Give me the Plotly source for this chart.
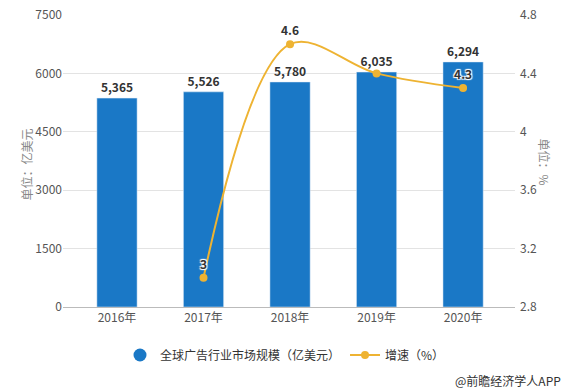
import plotly.graph_objects as go

years = ["2016年", "2017年", "2018年", "2019年", "2020年"]
market = [5365, 5526, 5780, 6035, 6294]
market_labels = ["5,365", "5,526", "5,780", "6,035", "6,294"]
growth_years = ["2017年", "2018年", "2019年", "2020年"]
growth = [3.0, 4.6, 4.4, 4.3]
growth_labels = ["3", "4.6", "", "4.3"]

BAR = "#1a78c6"
LINE = "#eeb332"
FONT = "Noto Sans CJK SC"

W, H = 569, 391
ML, MR, MT, MB = 63, 54, 15, 84
PW, PH = W - ML - MR, H - MT - MB


def px(x):
    return (x - ML) / PW


def py(y):
    return 1 - (y - MT) / PH


halo = "1px 1px 1px white, -1px -1px 1px white, 1px -1px 1px white, -1px 1px 1px white"

fig = go.Figure()
fig.add_trace(go.Bar(
    x=years, y=market, width=0.465, marker_color=BAR,
    text=market_labels, textposition="outside", cliponaxis=False,
    textfont=dict(size=12, color="#333333", family=FONT, weight="bold"),
    showlegend=False, name="全球广告行业市场规模（亿美元）"))
fig.add_trace(go.Scatter(
    x=[None], y=[None], mode="markers", marker=dict(color=BAR, size=13, symbol="circle"),
    name="全球广告行业市场规模（亿美元）"))
fig.add_trace(go.Scatter(
    x=growth_years, y=growth, yaxis="y2", mode="lines+markers+text",
    line=dict(color=LINE, width=2, shape="spline", smoothing=1.0),
    marker=dict(color=LINE, size=8),
    text=growth_labels, textposition="top center", cliponaxis=False,
    textfont=dict(size=12, color="#333333", family=FONT, weight="bold", shadow=halo),
    name="增速（%）"))

fig.update_layout(
    width=W, height=H,
    margin=dict(l=ML, r=MR, t=MT, b=MB, autoexpand=False),
    paper_bgcolor="white", plot_bgcolor="white",
    font=dict(family=FONT, size=12, color="#555555"),
    xaxis=dict(range=[-0.624, 4.60], showgrid=False, showline=True, linecolor="#bbbbbb",
               ticks="", automargin=False, tickfont=dict(size=12, color="#555555")),
    yaxis=dict(range=[0, 7500], tickvals=[0, 1500, 3000, 4500, 6000, 7500],
               showgrid=True, gridcolor="#e3e3e3", zeroline=False, showline=False,
               automargin=False, tickfont=dict(size=12, color="#555555")),
    yaxis2=dict(range=[2.8, 4.8], tickvals=[2.8, 3.2, 3.6, 4.0, 4.4, 4.8],
                ticktext=["2.8", "3.2", "3.6", "4", "4.4", "4.8"],
                overlaying="y", side="right", showgrid=False, zeroline=False,
                automargin=False, ticklabelstandoff=4,
                tickfont=dict(size=12, color="#555555")),
    legend=dict(orientation="h", x=px(285), xanchor="center", y=py(355), yanchor="middle",
                font=dict(size=12, color="#333333"), itemwidth=30),
    annotations=[
        dict(text="单位：亿美元", x=px(15), y=py(165), xref="paper", yref="paper",
             showarrow=False, textangle=-90, font=dict(size=12, color="#888888")),
        dict(text="单位：%", x=px(555), y=py(162), xref="paper", yref="paper",
             showarrow=False, textangle=90, font=dict(size=12, color="#888888")),
        dict(text="@前瞻经济学人APP", x=px(563), y=py(380), xref="paper", yref="paper",
             showarrow=False, xanchor="right", yanchor="middle",
             font=dict(size=12, color="#333333")),
    ],
)
fig.write_html("out.html", config={"displayModeBar": False})

with open("out.html", encoding="utf-8") as f:
    html = f.read()
html = html.replace("<head>", "<head><style>html,body{margin:0;padding:0;overflow:hidden;}</style>", 1)
with open("out.html", "w", encoding="utf-8") as f:
    f.write(html)
